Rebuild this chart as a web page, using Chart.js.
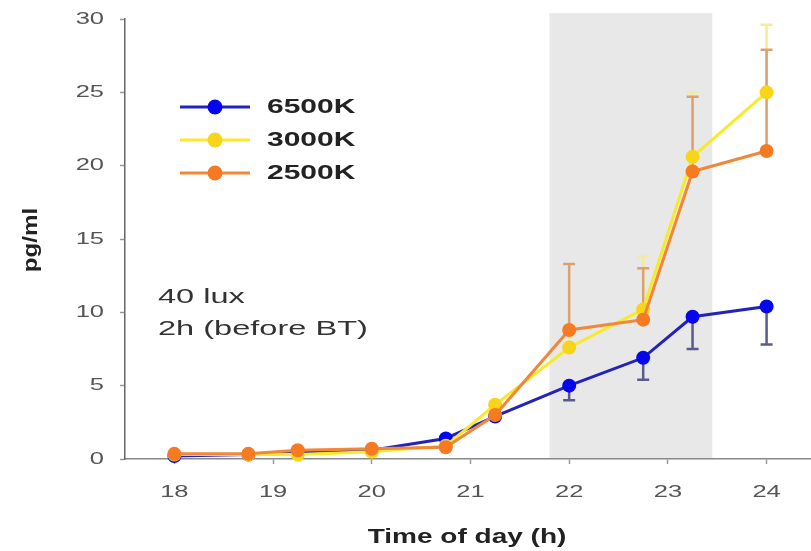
<!DOCTYPE html>
<html>
<head>
<meta charset="utf-8">
<script src="https://cdn.jsdelivr.net/npm/chart.js@4.4.1/dist/chart.umd.min.js"></script>
<style>
  html, body { margin: 0; padding: 0; background: #fff; }
  #wrap { width: 811px; height: 551px; position: relative; }
</style>
</head>
<body>
<div id="wrap"><canvas id="chart"></canvas></div>
<script>
// time points (h) and values (pg/ml)
const times = [18, 18.75, 19.25, 20, 20.75, 21.25, 22, 22.75, 23.25, 24];
const k6500 = [0.2, 0.3, 0.5, 0.6, 1.4, 2.9, 5.0, 6.9, 9.7, 10.4];
const k3000 = [0.3, 0.3, 0.3, 0.5, 0.9, 3.7, 7.6, 10.2, 20.6, 25.0];
const k2500 = [0.35, 0.35, 0.6, 0.7, 0.8, 3.0, 8.8, 9.5, 19.6, 21.0];

// error bars (6500K drawn downward, the others upward)
const err6500 = [0, 0, 0, 0, 0, 0, 1.0, 1.5, 2.2, 2.6];
const err3000 = [0, 0, 0, 0, 0, 0, 1.5, 3.6, 4.4, 4.6];
const err2500 = [0, 0, 0, 0, 0, 0, 4.5, 3.5, 5.1, 6.9];

const xTicks = [18, 19, 20, 21, 22, 23, 24];
const yTicks = [0, 5, 10, 15, 20, 25, 30];
const darkBand = [21.8, 23.45];

const seriesNames = ["6500K", "3000K", "2500K"];

function drawText(ctx, text, x, y, font, color, align, sx) {
  ctx.save();
  ctx.font = font;
  ctx.fillStyle = color;
  ctx.textAlign = align;
  ctx.textBaseline = "middle";
  ctx.translate(x, y);
  ctx.scale(sx, 1);
  ctx.fillText(text, 0, 0);
  ctx.restore();
}

const toPoints = (vals) => vals.map((v, i) => ({ x: times[i], y: v }));

const bandPlugin = {
  id: "band",
  beforeDraw(chart) {
    const { ctx, scales } = chart;
    const x0 = scales.x.getPixelForValue(darkBand[0]);
    const x1 = scales.x.getPixelForValue(darkBand[1]);
    const yTop = scales.y.getPixelForValue(30.4);
    const yBot = scales.y.getPixelForValue(0);
    ctx.save();
    ctx.fillStyle = "#e8e8e8";
    ctx.fillRect(x0, yTop, x1 - x0, yBot - yTop);
    ctx.restore();
  },
};

const errorPlugin = {
  id: "errors",
  beforeDatasetsDraw(chart) {
    const { ctx, scales } = chart;
    const sets = [
      { vals: k6500, err: err6500, dir: -1, color: "#5a5a90" },
      { vals: k3000, err: err3000, dir: 1, color: "#f3ec9a" },
      { vals: k2500, err: err2500, dir: 1, color: "#dca070" },
    ];
    ctx.save();
    ctx.lineWidth = 2.5;
    for (const s of sets) {
      ctx.strokeStyle = s.color;
      s.vals.forEach((v, i) => {
        if (!s.err[i]) return;
        const px = scales.x.getPixelForValue(times[i]);
        const py0 = scales.y.getPixelForValue(v);
        const py1 = scales.y.getPixelForValue(v + s.dir * s.err[i]);
        ctx.beginPath();
        ctx.moveTo(px, py0);
        ctx.lineTo(px, py1);
        ctx.moveTo(px - 6, py1);
        ctx.lineTo(px + 6, py1);
        ctx.stroke();
      });
    }
    ctx.restore();
  },
};

const textPlugin = {
  id: "texts",
  afterDraw(chart) {
    const { ctx, scales } = chart;
    const tickFont = "17px 'Liberation Sans', Arial, sans-serif";
    for (const v of yTicks) {
      drawText(ctx, String(v), 104, scales.y.getPixelForValue(v), tickFont, "#555", "right", 1.5);
    }
    for (const v of xTicks) {
      drawText(ctx, String(v), scales.x.getPixelForValue(v), 492, tickFont, "#555", "center", 1.5);
    }

    // axis titles
    drawText(ctx, "Time of day (h)", 467, 537, "bold 20px 'Liberation Sans', Arial, sans-serif", "#222", "center", 1.4);
    ctx.save();
    ctx.translate(31, 240);
    ctx.rotate(-Math.PI / 2);
    drawText(ctx, "pg/ml", 0, 0, "bold 21px 'Liberation Sans', Arial, sans-serif", "#222", "center", 1.15);
    ctx.restore();

    // note
    const noteFont = "21px 'Liberation Sans', Arial, sans-serif";
    drawText(ctx, "40 lux", 158, 297, noteFont, "#333", "left", 1.55);
    drawText(ctx, "2h (before BT)", 158, 329, noteFont, "#333", "left", 1.55);

    // legend
    const rows = [107, 140, 173];
    chart.data.datasets.forEach((ds, i) => {
      const y = rows[i];
      ctx.save();
      ctx.strokeStyle = ds.borderColor;
      ctx.lineWidth = 3;
      ctx.beginPath();
      ctx.moveTo(180, y);
      ctx.lineTo(250, y);
      ctx.stroke();
      ctx.fillStyle = ds.pointBackgroundColor;
      ctx.beginPath();
      ctx.arc(215, y, 7.5, 0, Math.PI * 2);
      ctx.fill();
      ctx.restore();
      drawText(ctx, ds.label, 267, y, "bold 20px 'Liberation Sans', Arial, sans-serif", "#222", "left", 1.5);
    });
  },
};

const lineStyle = (label, values, line, point, order) => ({
  label,
  data: toPoints(values),
  borderColor: line,
  backgroundColor: point,
  pointBackgroundColor: point,
  pointBorderColor: point,
  borderWidth: 3,
  pointRadius: 7,
  pointBorderWidth: 0,
  tension: 0,
  clip: false,
  order,
});

new Chart(document.getElementById("chart").getContext("2d"), {
  type: "line",
  data: {
    datasets: [
      lineStyle(seriesNames[0], k6500, "#2222bc", "#0505ee", 3),
      lineStyle(seriesNames[1], k3000, "#f7ea2a", "#f8d41a", 2),
      lineStyle(seriesNames[2], k2500, "#f08838", "#f57a22", 1),
    ],
  },
  plugins: [bandPlugin, errorPlugin, textPlugin],
  options: {
    responsive: true,
    maintainAspectRatio: false,
    animation: false,
    events: [],
    layout: { autoPadding: false, padding: { left: 120, top: 19, right: 0, bottom: 87 } },
    plugins: {
      legend: { display: false },
      tooltip: { enabled: false },
    },
    scales: {
      x: {
        type: "linear",
        min: 17.5,
        max: 24.45,
        afterBuildTicks: (scale) => { scale.ticks = xTicks.map((v) => ({ value: v })); },
        ticks: { display: false },
        grid: { drawOnChartArea: false, tickLength: 5, color: "#999", tickWidth: 1.5 },
        border: { color: "#888", width: 1.5 },
      },
      y: {
        min: 0,
        max: 30,
        afterBuildTicks: (scale) => { scale.ticks = yTicks.map((v) => ({ value: v })); },
        ticks: { display: false },
        grid: { drawOnChartArea: false, tickLength: 5, color: "#999", tickWidth: 1.5 },
        border: { color: "#666", width: 1.5 },
      },
    },
  },
});
</script>
</body>
</html>
